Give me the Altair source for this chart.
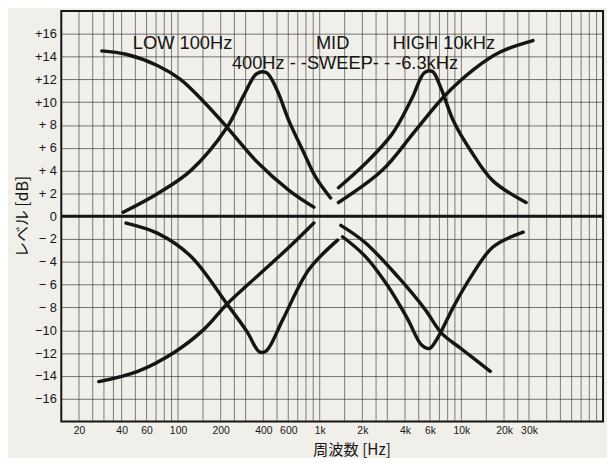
import altair as alt
import pandas as pd

# ---- curve data (frequency in Hz, level in dB) ----
low_boost_f = [29, 43, 72, 104, 153, 222, 359, 610, 909]
low_boost_db = [14.5, 14.2, 13.2, 12.0, 10.0, 7.8, 4.8, 2.25, 0.8]

mid400_boost_f = [41, 72, 123, 222, 291, 359, 420, 494, 610, 764, 939, 1194]
mid400_boost_db = [0.35, 2.0, 4.0, 7.8, 10.6, 12.5, 12.6, 11.2, 8.3, 5.7, 3.4, 1.6]

mid6k_boost_f = [1357, 2090, 3240, 4460, 5490, 6240, 7190, 8830, 11700, 16700, 28600]
mid6k_boost_db = [2.5, 4.6, 7.2, 10.3, 12.6, 12.7, 11.2, 8.3, 5.7, 3.1, 1.2]

high_boost_f = [1357, 2750, 4660, 7540, 12300, 18800, 32000]
high_boost_db = [1.2, 4.0, 7.4, 10.5, 12.9, 14.4, 15.4]

low_cut_f = [27.6, 52, 95, 153, 222, 359, 610, 909]
low_cut_db = [-14.5, -13.6, -11.9, -9.9, -7.7, -5.3, -2.7, -0.6]

mid400_cut_f = [43, 72, 123, 222, 306, 376, 420, 552, 837, 1337]
mid400_cut_db = [-0.6, -1.5, -3.5, -7.7, -10.1, -11.9, -11.8, -9.0, -4.7, -2.1]

mid6k_cut_f = [1450, 2090, 3020, 4170, 5240, 5960, 6780, 8830, 11700, 16700, 27300]
mid6k_cut_db = [-1.8, -3.5, -6.1, -9.0, -11.3, -11.6, -10.7, -7.9, -5.3, -2.7, -1.4]

high_cut_f = [1410, 2090, 3560, 5490, 7300, 9920, 16000]
high_cut_db = [-0.8, -2.3, -5.3, -8.1, -10.3, -11.6, -13.6]

# ---- axis ticks / grid ----
xtick_vals = [20, 40, 60, 100, 200, 400, 600, 1000, 2000, 4000, 6000, 10000, 20000, 30000]
xtick_labels = ["20", "40", "60", "100", "200", "400", "600", "1k", "2k", "4k", "6k", "10k", "20k", "30k"]
grid_f = [20, 25, 30, 35, 40, 50, 60, 70, 80, 90, 100, 150, 200, 250, 300, 400, 500, 600, 700,
          800, 900, 1000, 1500, 2000, 2500, 3000, 4000, 5000, 6000, 7000, 8000, 9000, 10000,
          15000, 20000, 25000, 30000, 40000, 50000, 60000, 70000, 80000, 90000]
ytick_vals = list(range(-16, 17, 2))

# ---- annotations ----
ann_text = ["LOW 100Hz", "MID", "HIGH 10kHz", "400Hz - -SWEEP- - -6.3kHz"]
ann_f = [48, 940, 3270, 240]
ann_db = [15.15, 15.15, 15.15, 13.45]

curves = [
    ("low_boost", low_boost_f, low_boost_db),
    ("mid400_boost", mid400_boost_f, mid400_boost_db),
    ("mid6k_boost", mid6k_boost_f, mid6k_boost_db),
    ("high_boost", high_boost_f, high_boost_db),
    ("low_cut", low_cut_f, low_cut_db),
    ("mid400_cut", mid400_cut_f, mid400_cut_db),
    ("mid6k_cut", mid6k_cut_f, mid6k_cut_db),
    ("high_cut", high_cut_f, high_cut_db),
]
rows = []
for name, fs, dbs in curves:
    for i, (f, d) in enumerate(zip(fs, dbs)):
        rows.append({"curve": name, "i": i, "f": f, "db": d})
df = pd.DataFrame(rows)
df_grid = pd.DataFrame({"f": grid_f})
df_zero = pd.DataFrame({"db": [0]})
df_ann = pd.DataFrame({"f": ann_f, "db": ann_db, "t": ann_text})

BG = "#f1efe9"
INK = "#151515"
LATIN = "Liberation Sans"
JP = "Noto Sans CJK JP"

label_expr = " : ".join(f"datum.value == {v} ? '{l}'" for v, l in zip(xtick_vals, xtick_labels)) + " : ''"
y_label_expr = ("datum.value > 0 ? '+' + (datum.value < 10 ? ' ' : '') + datum.value : "
                "datum.value < 0 ? '\u2212' + (datum.value > -10 ? ' ' : '') + abs(datum.value) : '0'")

xscale = alt.Scale(type="log", domain=[15, 100000], nice=False)
yscale = alt.Scale(domain=[-18, 18], nice=False)

x_enc = alt.X("f:Q", scale=xscale, axis=alt.Axis(
    values=xtick_vals, labelExpr=label_expr, grid=False, ticks=False, domain=False,
    labelFont=LATIN, labelFontSize=10.5, labelColor=INK, labelPadding=4, labelOverlap=False,
    title="周波数 [Hz]", titleFont=JP, titleFontSize=15.5, titleFontWeight="normal",
    titleColor=INK, titleX=294, titleY=28, titleBaseline="middle", titleAlign="center"))
y_enc = alt.Y("db:Q", scale=yscale, axis=alt.Axis(
    values=ytick_vals, labelExpr=y_label_expr, grid=True, gridColor="#2a2a2a",
    gridWidth=0.8, gridOpacity=0.8, ticks=False, domain=False,
    labelFont=LATIN, labelFontSize=13, labelColor=INK, labelPadding=5,
    title="レベル [dB]", titleFont=JP, titleFontSize=16, titleFontWeight="normal",
    titleColor=INK, titlePadding=4))

grid = alt.Chart(df_grid).mark_rule(color="#2a2a2a", strokeWidth=0.8, opacity=0.75).encode(x=x_enc)
zero = alt.Chart(df_zero).mark_rule(color=INK, strokeWidth=3).encode(y=y_enc)
lines = alt.Chart(df).mark_line(color=INK, strokeWidth=3.5, interpolate="catmull-rom",
                                strokeCap="round", strokeJoin="round").encode(
    x=x_enc, y=y_enc, detail="curve:N", order="i:Q")
ann = alt.Chart(df_ann).mark_text(align="left", baseline="middle", font=LATIN, fontSize=18.5,
                                  color=INK).encode(x=x_enc, y=y_enc, text="t:N")

chart = alt.layer(grid, zero, lines, ann).properties(
    width=549, height=416,
    padding={"left": 54, "top": 0, "right": 4, "bottom": 34},
    autosize=alt.AutoSizeParams(type="none"),
    background=BG,
).configure_view(stroke=INK, strokeWidth=2, fill=BG)

chart.save("out.html", embed_options={"renderer": "svg", "actions": False})
